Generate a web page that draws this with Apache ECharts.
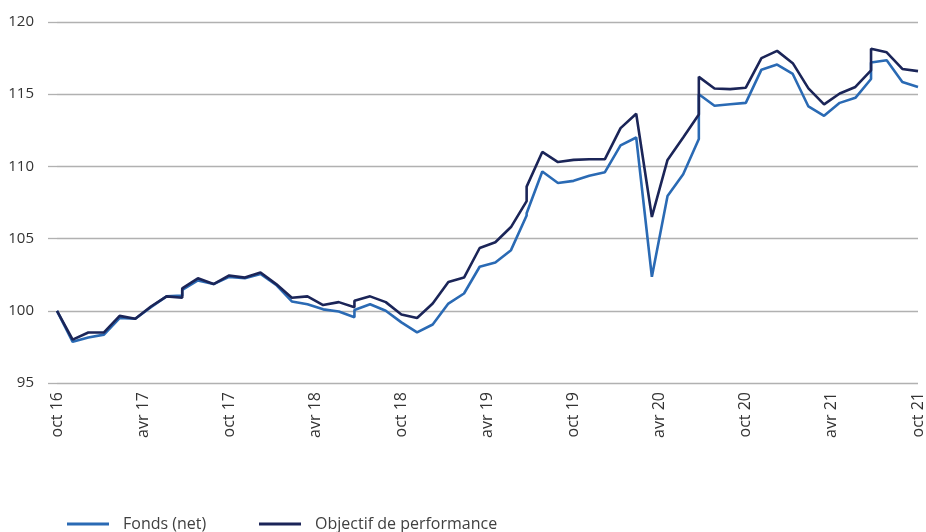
<!DOCTYPE html>
<html>
<head>
<meta charset="utf-8">
<script src="https://cdn.jsdelivr.net/npm/echarts@6/dist/echarts.min.js"></script>
<style>
  html, body { margin: 0; padding: 0; background: #fff; }
  #chart { width: 926px; height: 532px; }
</style>
</head>
<body>
<div id="chart"></div>
<script>
// tick labels on the x axis (every 5.5 point positions)
const tickLabels = ['oct 16', 'avr 17', 'oct 17', 'avr 18', 'oct 18', 'avr 19',
  'oct 19', 'avr 20', 'oct 20', 'avr 21', 'oct 21']

// point positions along the axis; a repeated position is a rebasing jump
const xPos = [0, 1, 2, 3, 4, 5, 6, 7, 8, 8,
  9, 10, 11, 12, 13, 14, 15, 16, 17, 18, 19, 19,
  20, 21, 22, 23, 24, 25, 26, 27, 28, 29, 30, 30,
  31, 32, 33, 34, 35, 36, 37, 38, 39, 40, 41, 41,
  42, 43, 44, 45, 46, 47, 48, 49, 50, 51, 52, 52,
  53, 54, 55]

const fonds = [100, 97.85, 98.15, 98.35, 99.5, 99.45, 100.25, 101.0, 101.05, 101.45,
  102.1, 101.85, 102.35, 102.25, 102.55, 101.8, 100.65, 100.45, 100.1, 99.95, 99.55, 100.05,
  100.45, 100.0, 99.2, 98.5, 99.05, 100.5, 101.2, 103.05, 103.35, 104.2, 106.6, 106.75,
  109.65, 108.85, 109.0, 109.35, 109.6, 111.45, 112.0, 102.35, 107.95, 109.45, 111.9, 115.0,
  114.2, 114.3, 114.4, 116.7, 117.05, 116.4, 114.15, 113.5, 114.4, 114.75, 116.05, 117.2,
  117.35, 115.85, 115.5]

const objectif = [100, 98.0, 98.5, 98.5, 99.65, 99.45, 100.3, 101.0, 100.9, 101.55,
  102.25, 101.85, 102.45, 102.3, 102.65, 101.85, 100.9, 101.0, 100.4, 100.6, 100.25, 100.7,
  101.0, 100.6, 99.75, 99.5, 100.5, 102.0, 102.3, 104.35, 104.75, 105.8, 107.6, 108.6,
  111.0, 110.3, 110.45, 110.5, 110.5, 112.65, 113.65, 106.5, 110.45, 112.0, 113.6, 116.2,
  115.4, 115.35, 115.45, 117.5, 118.0, 117.15, 115.4, 114.3, 115.05, 115.5, 116.65, 118.15,
  117.9, 116.75, 116.6]

const FONT = '"Open Sans", "Noto Sans", sans-serif'
const GRID_GREY = '#b1b1b1'

// one legend per item so each can be placed on its own
function legendAt(left, name) {
  return {
    left: left,
    top: 511,
    itemWidth: 42,
    itemHeight: 3,
    icon: 'rect',
    textStyle: {
      fontFamily: FONT,
      fontSize: 16,
      color: '#404040',
      padding: [0, 0, 0, 9]
    },
    data: [name]
  }
}

const chart = echarts.init(document.getElementById('chart'))

chart.setOption({
  backgroundColor: '#fff',
  animation: false,
  legend: [
    legendAt(62, 'Fonds (net)'),
    legendAt(254, 'Objectif de performance')
  ],
  grid: {
    left: 57,
    right: 4,
    top: 22,
    bottom: 149,
    containLabel: false
  },
  xAxis: {
    type: 'value',
    min: 0,
    max: 55,
    interval: 5.5,
    axisLine: { show: false },
    axisTick: { show: false },
    splitLine: { show: false },
    axisLabel: {
      rotate: 90,
      margin: 9,
      fontFamily: FONT,
      fontSize: 16,
      color: '#333',
      showMinLabel: true,
      showMaxLabel: true,
      formatter: v => tickLabels[Math.round(v / 5.5)]
    }
  },
  yAxis: {
    type: 'value',
    min: 95,
    max: 120,
    interval: 5,
    axisLine: { show: false },
    axisTick: {
      show: true,
      length: 9,
      lineStyle: { color: GRID_GREY, width: 1.3 }
    },
    axisLabel: {
      margin: 23,
      fontFamily: FONT,
      fontSize: 15,
      color: '#333'
    },
    splitLine: {
      lineStyle: { color: GRID_GREY, width: 1.3 }
    }
  },
  series: [
    {
      name: 'Fonds (net)',
      type: 'line',
      data: xPos.map((x, i) => [x, fonds[i]]),
      symbol: 'none',
      itemStyle: { color: '#2A6AB4' },
      lineStyle: { width: 2.6, color: '#2A6AB4' }
    },
    {
      name: 'Objectif de performance',
      type: 'line',
      data: xPos.map((x, i) => [x, objectif[i]]),
      symbol: 'none',
      itemStyle: { color: '#1B2558' },
      lineStyle: { width: 2.6, color: '#1B2558' }
    }
  ]
})
</script>
</body>
</html>
